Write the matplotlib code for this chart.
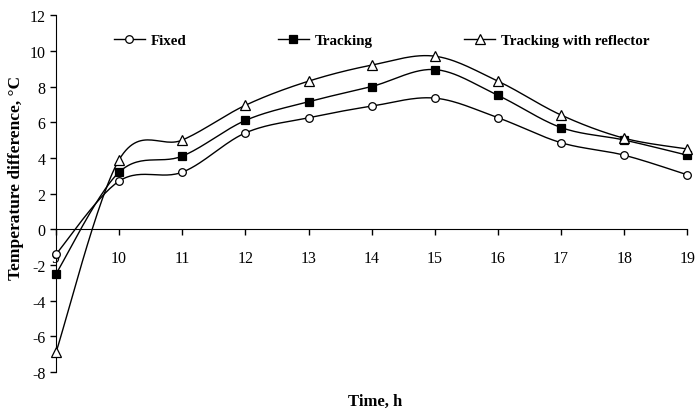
import numpy as np
import matplotlib
matplotlib.use("Agg")
import matplotlib.pyplot as plt

# Data
hours = [9, 10, 11, 12, 13, 14, 15, 16, 17, 18, 19]
fixed = [-1.4, 2.7, 3.2, 5.4, 6.25, 6.9, 7.35, 6.25, 4.85, 4.15, 3.05]
tracking = [-2.5, 3.2, 4.1, 6.1, 7.15, 8.0, 8.95, 7.5, 5.7, 5.0, 4.15]
reflector = [-6.9, 3.9, 5.0, 6.95, 8.3, 9.2, 9.7, 8.3, 6.4, 5.1, 4.5]


def smooth(x, y, n=30):
    # Excel-like smoothed line: cubic Bezier with Catmull-Rom control points
    x = np.asarray(x, float)
    y = np.asarray(y, float)
    px = np.concatenate([[x[0]], x, [x[-1]]])
    py = np.concatenate([[y[0]], y, [y[-1]]])
    xs, ys = [], []
    t = np.linspace(0, 1, n)
    for i in range(1, len(px) - 2):
        p0 = np.array([px[i], py[i]])
        p3 = np.array([px[i + 1], py[i + 1]])
        c1 = p0 + (np.array([px[i + 1], py[i + 1]]) - np.array([px[i - 1], py[i - 1]])) / 6
        c2 = p3 - (np.array([px[i + 2], py[i + 2]]) - np.array([px[i], py[i]])) / 6
        b = ((1 - t) ** 3)[:, None] * p0 + (3 * (1 - t) ** 2 * t)[:, None] * c1 \
            + (3 * (1 - t) * t ** 2)[:, None] * c2 + (t ** 3)[:, None] * p3
        xs.extend(b[:, 0])
        ys.extend(b[:, 1])
    return xs, ys


plt.rcParams["font.family"] = "Liberation Serif"
plt.rcParams["axes.unicode_minus"] = False

fig = plt.figure(figsize=(7, 4.14), dpi=100)
ax = fig.add_axes([0.08, 0.099, 0.902, 0.862])

series = [
    (fixed, "Fixed", dict(marker="o", markerfacecolor="white", markersize=5.5)),
    (tracking, "Tracking", dict(marker="s", markerfacecolor="black", markersize=5.5)),
    (reflector, "Tracking with reflector", dict(marker="^", markerfacecolor="white", markersize=6.5)),
]
for vals, label, style in series:
    sx, sy = smooth(hours, vals)
    ax.plot(sx, sy, color="black", linewidth=1, zorder=2)
    ax.plot(hours, vals, linestyle="none", color="black", markeredgecolor="black",
            markeredgewidth=0.9, zorder=3, clip_on=False, **style)
    ax.plot([], [], color="black", linewidth=1, markeredgecolor="black",
            markeredgewidth=0.9, label=label, **style)

ax.set_xlim(9, 19)
ax.set_ylim(-8, 12)
ax.set_xticks(hours)
ax.set_yticks(range(-8, 13, 2))
ax.spines["top"].set_visible(False)
ax.spines["right"].set_visible(False)
ax.spines["bottom"].set_position(("data", 0))
ax.tick_params(axis="both", labelsize=11.5, length=4, width=1, direction="out")
ax.tick_params(axis="x", pad=11)

ax.set_ylabel("Temperature difference, °C", fontsize=12.5, fontweight="bold")
ax.yaxis.set_label_coords(-0.05, 0.546)
fig.text(0.536, 0.02, "Time, h", fontsize=12, fontweight="bold", ha="center")

leg = ax.legend(ncol=3, frameon=False, loc="upper left", bbox_to_anchor=(0.07, 0.985),
                prop={"weight": "bold", "size": 10.8}, columnspacing=6.1,
                handlelength=2.1, handletextpad=0.35)

fig.savefig("out.png", dpi=100)
